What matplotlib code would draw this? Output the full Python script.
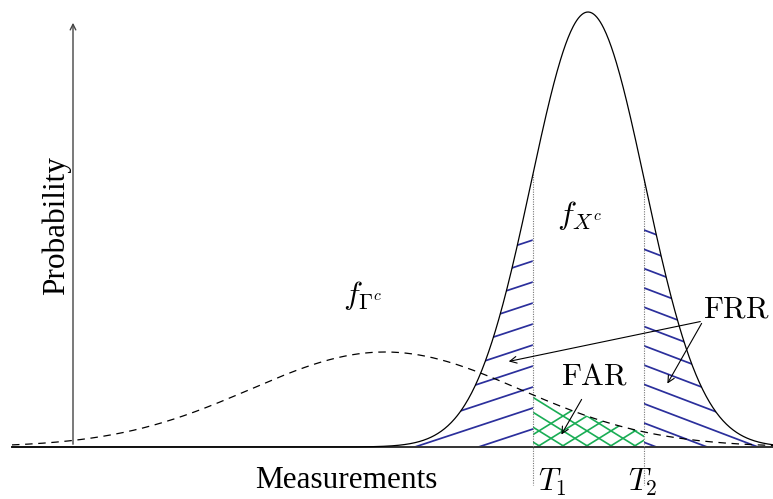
import numpy as np
import matplotlib.pyplot as plt
from matplotlib.patches import Polygon

plt.rcParams['mathtext.fontset'] = 'cm'

genuine_mean, genuine_sd, genuine_peak = 588, 57, 435     # f_{X^c}, solid
impostor_mean, impostor_sd, impostor_peak = 385, 135, 95  # f_{Gamma^c}, dashed
thresholds = [533, 644]          # T1, T2
threshold_labels = [r'$T_1$', r'$T_2$']
label_x = [538, 628]
x_min, x_max = 12, 773


def gauss(x, m, s, p):
    return p * np.exp(-(x - m) ** 2 / (2 * s ** 2))


x = np.linspace(x_min, x_max, 900)
f_gen = gauss(x, genuine_mean, genuine_sd, genuine_peak)
f_imp = gauss(x, impostor_mean, impostor_sd, impostor_peak)
T1, T2 = thresholds

fig = plt.figure(figsize=(7.73, 4.99), dpi=100)
ax = fig.add_axes([0, 0, 1, 1])
ax.set_xlim(0, 773)
ax.set_ylim(-52, 447)
ax.axis('off')

blue = '#2b2f9c'
green = '#1aad55'


def hatch_lines(region_x, region_y, x0, slope, offsets, color, lw=1.0):
    poly = Polygon(np.column_stack([region_x, region_y]), closed=True,
                   facecolor='none', edgecolor='none')
    ax.add_patch(poly)
    xs = np.array([0, 773])
    for b in offsets:
        ln, = ax.plot(xs, b + slope * (xs - x0), color=color, lw=lw, zorder=2)
        ln.set_clip_path(poly)


# FRR region left of T1 (under solid curve)
m = x <= T1
rx = np.concatenate([x[m], [T1, x_min]])
ry = np.concatenate([f_gen[m], [0, 0]])
hatch_lines(rx, ry, T1, 0.33, np.arange(207, 10, -21), blue, lw=1.25)

# FRR region right of T2
m = x >= T2
rx = np.concatenate([[T2], x[m], [x_max, T2]])
ry = np.concatenate([[gauss(T2, genuine_mean, genuine_sd, genuine_peak)], f_gen[m], [0, 0]])
hatch_lines(rx, ry, T2, -0.38, np.arange(217, 0, -19.3), blue, lw=1.25)

# FAR region between T1 and T2 (under dashed curve), cross hatch
m = (x >= T1) & (x <= T2)
rx = np.concatenate([[T1], x[m], [T2, T2, T1]])
ry = np.concatenate([[gauss(T1, impostor_mean, impostor_sd, impostor_peak)], f_imp[m],
                     [gauss(T2, impostor_mean, impostor_sd, impostor_peak), 0, 0]])
step = 24
hatch_lines(rx, ry, T1, -0.62, -0.62 * (np.arange(T1 - 200, T2 + 20, step) - T1), green, lw=1.2)
hatch_lines(rx, ry, T1, 0.62, 0.62 * (T1 - np.arange(T1 - 20, T2 + 200, step)), green, lw=1.2)

# baseline and vertical axis
ax.plot([x_min, x_max], [0, 0], color='#333333', lw=1.4, zorder=3)
ax.annotate('', xy=(73, 427), xytext=(73, 0),
            arrowprops=dict(arrowstyle='->', color='#444444', lw=1.0, mutation_scale=10))

# curves
ax.plot(x, f_gen, color='black', lw=0.9, zorder=4)
ax.plot(x, f_imp, color='black', lw=0.9, dashes=(6, 4.5), zorder=4)

# thresholds
for t, lab, lx in zip(thresholds, threshold_labels, label_x):
    top = gauss(t, genuine_mean, genuine_sd, genuine_peak)
    ax.plot([t, t], [top, -38], color='#777777', lw=0.8, linestyle=(0, (1, 1.2)), zorder=3)
    ax.text(lx, -20, lab, fontsize=22, ha='left', va='top')

# labels
serif = 'Liberation Serif'
ax.text(56, 221, 'Probability', rotation=90, ha='center', va='center',
        fontsize=22.5, family=serif)
ax.text(346, -33, 'Measurements', ha='center', va='center', fontsize=22.5, family=serif)
ax.text(580, 232, r'$f_{X^c}$', fontsize=23, ha='center', va='center')
ax.text(363, 152, r'$f_{\Gamma^c}$', fontsize=23, ha='center', va='center')
ax.text(736, 138, r'$\mathrm{FRR}$', fontsize=22, ha='center', va='center')
ax.text(595, 71, r'$\mathrm{FAR}$', fontsize=22, ha='center', va='center')

arrow = dict(arrowstyle='->', color='black', lw=0.8, mutation_scale=12)
ax.annotate('', xy=(506, 85), xytext=(703, 126), arrowprops=arrow)
ax.annotate('', xy=(666, 61), xytext=(703, 126), arrowprops=arrow)
ax.annotate('', xy=(560, 10), xytext=(583, 50), arrowprops=arrow)

fig.savefig('out.png', dpi=100)
